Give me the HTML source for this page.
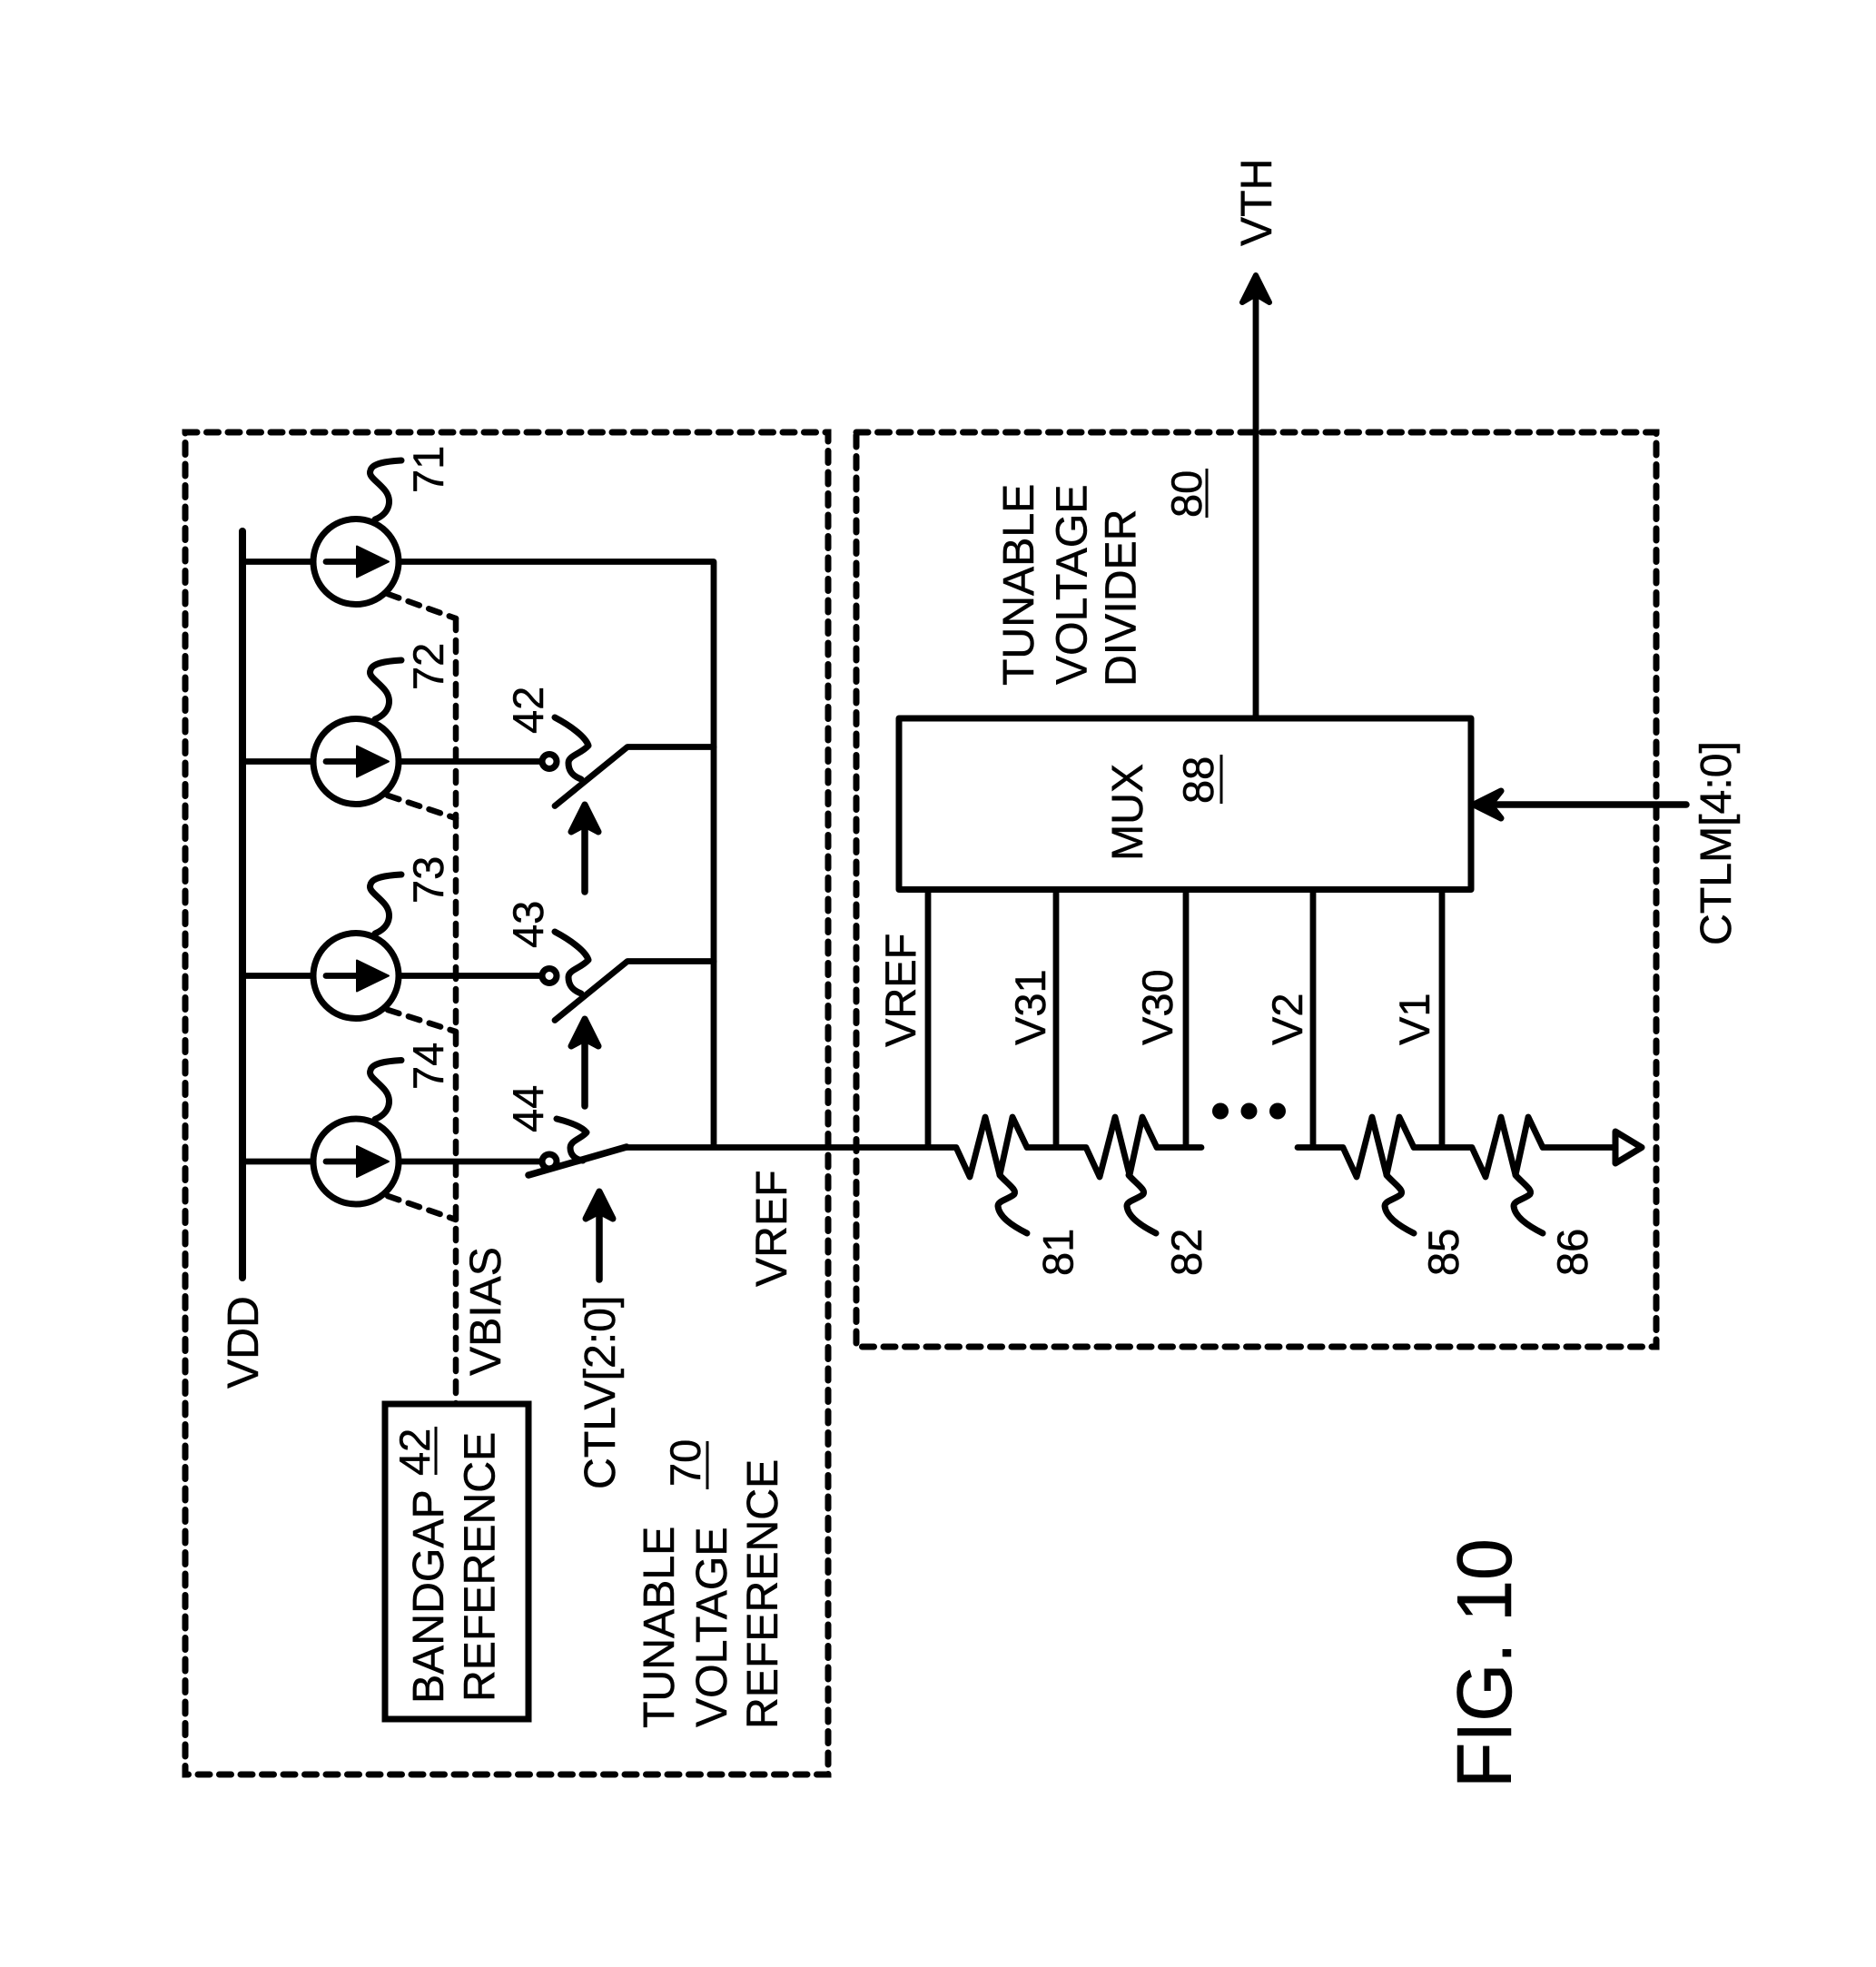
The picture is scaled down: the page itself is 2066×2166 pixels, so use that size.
<!DOCTYPE html>
<html>
<head>
<meta charset="utf-8">
<style>
html,body{margin:0;padding:0;background:#fff;width:2066px;height:2166px;overflow:hidden}
svg{display:block}
text{font-family:"Liberation Sans",Arial,sans-serif;font-size:47px;fill:#000;stroke:#000;stroke-width:.5}
text.b{font-size:48.2px}
.w{fill:none;stroke:#000;stroke-width:6.8;stroke-linecap:round;stroke-linejoin:round}
.d{fill:none;stroke:#000;stroke-width:7;stroke-linecap:round;stroke-dasharray:13 10.5}
.ds{fill:none;stroke:#000;stroke-width:6.5;stroke-linecap:round;stroke-dasharray:13 11}
.l{fill:none;stroke:#000;stroke-width:7;stroke-linecap:round;stroke-linejoin:round}
.u{stroke:#000;stroke-width:3}
.c{fill:#fff;stroke:#000;stroke-width:7}
</style>
</head>
<body>
<svg xmlns="http://www.w3.org/2000/svg" width="2066" height="2166" viewBox="0 0 2066 2166">
<rect width="2066" height="2166" fill="#fff"/>

<!-- dashed boxes -->
<rect class="d" x="204" y="476" width="708" height="1478"/>
<rect class="d" x="943" y="476" width="881" height="1007"/>

<!-- VDD rail -->
<line x1="267" y1="585" x2="267" y2="1407" stroke="#000" stroke-width="8" stroke-linecap="round"/>

<!-- VBIAS dashed -->
<path class="ds" d="M502 681V1546"/>
<path class="ds" d="M427 654L502 681"/>
<path class="ds" d="M427 876L502 901"/>
<path class="ds" d="M427 1112L502 1136"/>
<path class="ds" d="M427 1317L502 1343"/>

<!-- wires from the rail -->
<path class="w" d="M267 618.5H786V1263"/>
<path class="w" d="M267 838.5H597"/>
<path class="w" d="M267 1074.5H597"/>
<path class="w" d="M267 1279H597"/>

<!-- current sources -->
<g>
<circle cx="392" cy="618.5" r="47" class="c"/>
<path class="w" d="M359 618.5H395"/><path d="M393 601.5L428 618.5L393 635.5Z" fill="#000" stroke="#000" stroke-width="2" stroke-linejoin="round"/>
<path class="l" d="M413 572C430 565 432 550 424 540C416 530 405 525 408 518C410 510 425 508 442 507"/>
</g>
<g transform="translate(0,220)">
<circle cx="392" cy="618.5" r="47" class="c"/>
<path class="w" d="M359 618.5H395"/><path d="M393 601.5L428 618.5L393 635.5Z" fill="#000" stroke="#000" stroke-width="2" stroke-linejoin="round"/>
<path class="l" d="M413 572C430 565 432 550 424 540C416 530 405 525 408 518C410 510 425 508 442 507"/>
</g>
<g transform="translate(0,456)">
<circle cx="392" cy="618.5" r="47" class="c"/>
<path class="w" d="M359 618.5H395"/><path d="M393 601.5L428 618.5L393 635.5Z" fill="#000" stroke="#000" stroke-width="2" stroke-linejoin="round"/>
<path class="l" d="M413 572C430 565 432 550 424 540C416 530 405 525 408 518C410 510 425 508 442 507"/>
</g>
<g transform="translate(0,660.5)">
<circle cx="392" cy="618.5" r="47" class="c"/>
<path class="w" d="M359 618.5H395"/><path d="M393 601.5L428 618.5L393 635.5Z" fill="#000" stroke="#000" stroke-width="2" stroke-linejoin="round"/>
<path class="l" d="M413 572C430 565 432 550 424 540C416 530 405 525 408 518C410 510 425 508 442 507"/>
</g>

<!-- switches -->
<circle cx="605" cy="838.5" r="8" fill="#fff" stroke="#000" stroke-width="7"/>
<path class="w" d="M611 887.5L691 822.5H786"/>
<path class="l" d="M611 790C630 800 645 812 648 821C640 830 626 832 626 840C626 850 632 855 640 858"/>
<circle cx="605" cy="1074.5" r="8" fill="#fff" stroke="#000" stroke-width="7"/>
<path class="w" d="M611 1123.5L691 1058.5H786"/>
<path class="l" d="M611 1026C630 1036 645 1048 648 1057C640 1066 626 1068 626 1076C626 1086 632 1091 640 1094"/>
<circle cx="605" cy="1279" r="8" fill="#fff" stroke="#000" stroke-width="7"/>
<path class="w" style="stroke-width:7.5" d="M582 1294L690 1263"/>
<path class="l" d="M613 1232C625 1235 640 1240 646 1247C640 1254 628 1256 628 1264C628 1272 634 1277 642 1278"/>

<!-- actuator arrows -->
<path class="w" style="stroke-width:7.5" d="M644 982V900"/>
<path d="M644 886L659 916L644 908L629 916Z" fill="#000" stroke="#000" stroke-width="7" stroke-linejoin="round"/>
<path class="w" style="stroke-width:7.5" d="M644 1218V1136"/>
<path d="M644 1122L659 1152L644 1144L629 1152Z" fill="#000" stroke="#000" stroke-width="7" stroke-linejoin="round"/>
<path class="w" style="stroke-width:7.5" d="M660 1409V1326"/>
<path d="M660 1312L675 1342L660 1334L645 1342Z" fill="#000" stroke="#000" stroke-width="7" stroke-linejoin="round"/>

<!-- bandgap box -->
<rect x="424" y="1546" width="158" height="347" fill="#fff" stroke="#000" stroke-width="7"/>

<!-- mux box -->
<rect x="990" y="791" width="630" height="188.5" fill="none" stroke="#000" stroke-width="7" stroke-linejoin="round"/>

<!-- VTH output -->
<path class="w" d="M1383 791V320"/>
<path d="M1383 303L1398 333L1383 324L1368 333Z" fill="#000" stroke="#000" stroke-width="6" stroke-linejoin="round"/>

<!-- CTLM arrow -->
<path class="w" style="stroke-width:7.5" d="M1857 886H1640"/>
<path d="M1623 886L1653 871L1641 886L1653 901Z" fill="#000" stroke="#000" stroke-width="7" stroke-linejoin="round"/>

<!-- taps -->
<path class="w" d="M1022 980V1263M1163 980V1263M1306 980V1263M1446 980V1263M1588 980V1263"/>

<!-- divider ladder -->
<path class="w" d="M689 1263.5H1053L1068 1296L1085 1230L1101 1294L1115 1230L1131 1263.5H1196L1211 1296L1228 1230L1244 1294L1258 1230L1274 1263.5H1323"/>
<path class="w" d="M1429 1263.5H1479L1494 1296L1511 1230L1527 1294L1541 1230L1557 1263.5H1621L1636 1296L1653 1230L1669 1294L1683 1230L1699 1263.5H1779"/>
<path d="M1779 1246L1808 1263.5L1779 1281Z" fill="#fff" stroke="#000" stroke-width="7" stroke-linejoin="round"/>

<!-- dots -->
<circle cx="1344" cy="1223.5" r="9" fill="#000"/>
<circle cx="1375.5" cy="1223.5" r="9" fill="#000"/>
<circle cx="1407" cy="1223.5" r="9" fill="#000"/>

<!-- resistor leaders -->
<path class="l" d="M1101 1294C1110 1304 1120 1310 1117 1315C1112 1320 1099 1322 1099 1328C1100 1340 1115 1350 1131 1358"/>
<path class="l" transform="translate(142,0)" d="M1101 1294C1110 1304 1120 1310 1117 1315C1112 1320 1099 1322 1099 1328C1100 1340 1115 1350 1131 1358"/>
<path class="l" transform="translate(426,0)" d="M1101 1294C1110 1304 1120 1310 1117 1315C1112 1320 1099 1322 1099 1328C1100 1340 1115 1350 1131 1358"/>
<path class="l" transform="translate(568,0)" d="M1101 1294C1110 1304 1120 1310 1117 1315C1112 1320 1099 1322 1099 1328C1100 1340 1115 1350 1131 1358"/>

<!-- labels, rotated -->
<text transform="translate(488,543) rotate(-90)">71</text>
<text transform="translate(488,760) rotate(-90)">72</text>
<text transform="translate(488,995) rotate(-90)">73</text>
<text transform="translate(488,1200) rotate(-90)">74</text>
<text transform="translate(598,808) rotate(-90)">42</text>
<text transform="translate(598,1044) rotate(-90)">43</text>
<text transform="translate(598,1247) rotate(-90)">44</text>
<text class="b" transform="translate(284,1529) rotate(-90)">VDD</text>
<text class="b" transform="translate(551,1515) rotate(-90)">VBIAS</text>
<text class="b" transform="translate(677,1640) rotate(-90)">CTLV[2:0]</text>
<text class="b" transform="translate(866,1417) rotate(-90)">VREF</text>
<text class="b" transform="translate(488,1876) rotate(-90)">BANDGAP</text>
<text transform="translate(473,1625) rotate(-90)">42</text>
<line class="u" x1="480" y1="1571" x2="480" y2="1624"/>
<text class="b" transform="translate(544.5,1874) rotate(-90)">REFERENCE</text>
<text class="b" transform="translate(742,1903) rotate(-90)">TUNABLE</text>
<text class="b" transform="translate(800,1902) rotate(-90)">VOLTAGE</text>
<text class="b" transform="translate(856,1904) rotate(-90)">REFERENCE</text>
<text transform="translate(771,1637) rotate(-90)">70</text>
<line class="u" x1="779" y1="1587" x2="779" y2="1640"/>

<text class="b" transform="translate(1400,271) rotate(-90)">VTH</text>
<text class="b" transform="translate(1258,948) rotate(-90)">MUX</text>
<text transform="translate(1336,885) rotate(-90)">88</text>
<line class="u" x1="1345" y1="831" x2="1345" y2="885"/>
<text class="b" transform="translate(1138,755) rotate(-90)">TUNABLE</text>
<text class="b" transform="translate(1196.5,754) rotate(-90)">VOLTAGE</text>
<text class="b" transform="translate(1250.5,756) rotate(-90)">DIVIDER</text>
<text transform="translate(1323,570) rotate(-90)">80</text>
<line class="u" x1="1329" y1="516" x2="1329" y2="570"/>
<text class="b" transform="translate(1906,1041) rotate(-90)">CTLM[4:0]</text>

<text transform="translate(1008,1153) rotate(-90)">VREF</text>
<text transform="translate(1151,1151) rotate(-90)">V31</text>
<text transform="translate(1291,1151) rotate(-90)">V30</text>
<text transform="translate(1434,1151) rotate(-90)">V2</text>
<text transform="translate(1574,1151) rotate(-90)">V1</text>
<text transform="translate(1181.5,1405) rotate(-90)">81</text>
<text transform="translate(1323,1405) rotate(-90)">82</text>
<text transform="translate(1606,1405) rotate(-90)">85</text>
<text transform="translate(1748,1405) rotate(-90)">86</text>

<text transform="translate(1664,1969) rotate(-90) scale(.97,1)" style="font-size:85px">FIG. 10</text>
</svg>
</body>
</html>
